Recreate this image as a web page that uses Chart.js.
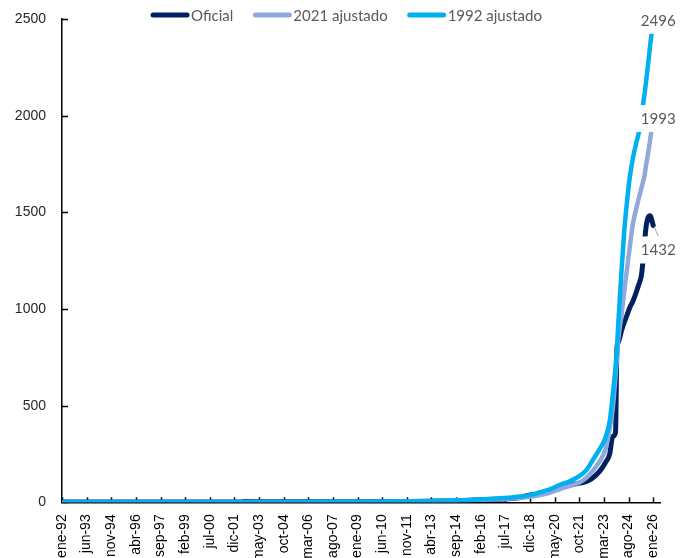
<!DOCTYPE html>
<html>
<head>
<meta charset="utf-8">
<script src="https://cdn.jsdelivr.net/npm/chart.js@4.4.1/dist/chart.umd.min.js"></script>
<style>
  html, body { margin: 0; padding: 0; overflow: hidden; background: #fff; }
  #wrap { position: relative; width: 693px; height: 573px; }
</style>
</head>
<body>
<div id="wrap"><canvas id="chart"></canvas></div>
<script>
// months counted from ene-92 (0) to ene-26 (408)
const months = [0, 24, 48, 72, 96, 120, 126, 144, 168, 192, 216, 240, 252, 264, 276, 288, 300, 310, 316, 323, 330, 337, 344, 350, 357, 362, 366, 371, 375, 378, 380, 382, 383, 384, 386, 388, 390, 392, 394, 396, 398, 400, 402, 403, 404, 405, 406, 407, 408];

const oficial = [1, 1, 1, 1, 1, 1, 3.6, 2.9, 3.05, 3.15, 3.8, 4.3, 5, 6.7, 8.6, 13.6, 16, 20, 25, 38, 44, 58, 75, 88, 99, 108, 125, 160, 205, 250, 340, 362, 800, 830, 885, 930, 970, 1010, 1040, 1080, 1125, 1180, 1340, 1420, 1462, 1480, 1482, 1460, 1432];

const ajustado2021 = [0.8, 1, 1, 1, 1, 1, 1.3, 1.5, 1.8, 2.2, 2.8, 4, 4.8, 6.5, 9, 12, 16, 20, 24, 29, 38, 50, 70, 84, 102, 128, 160, 212, 272, 380, 480, 650, 750, 850, 960, 1090, 1210, 1330, 1440, 1510, 1570, 1630, 1690, 1740, 1785, 1830, 1880, 1940, 1993];

const ajustado1992 = [1, 1.2, 1.3, 1.3, 1.3, 1.3, 1.6, 1.8, 2.2, 2.7, 3.5, 5, 6, 8, 11, 15, 20, 25, 30, 37, 52, 68, 92, 108, 135, 168, 215, 275, 333, 420, 550, 700, 800, 936, 1180, 1400, 1560, 1690, 1780, 1850, 1910, 2010, 2110, 2170, 2235, 2300, 2370, 2430, 2496];

const tickLabels = ['ene-92', 'jun-93', 'nov-94', 'abr-96', 'sep-97', 'feb-99', 'jul-00', 'dic-01', 'may-03', 'oct-04', 'mar-06', 'ago-07', 'ene-09', 'jun-10', 'nov-11', 'abr-13', 'sep-14', 'feb-16', 'jul-17', 'dic-18', 'may-20', 'oct-21', 'mar-23', 'ago-24', 'ene-26'];
const tickStep = 17;

const seriesNames = ['Oficial', '2021 ajustado', '1992 ajustado'];
const seriesColors = ['#002060', '#8EA9DB', '#00B0F0'];

const toPoints = arr => months.map((m, i) => ({ x: m, y: arr[i] }));

// small inside tick marks on both axes
const insideTicks = {
    id: 'insideTicks',
    beforeDatasetsDraw(chart) {
        const ctx = chart.ctx;
        const area = chart.chartArea;
        const xs = chart.scales.x, ys = chart.scales.y;
        ctx.save();
        ctx.strokeStyle = '#000';
        ctx.lineWidth = 1.5;
        xs.ticks.forEach(t => {
            const px = Math.round(xs.getPixelForValue(t.value)) + 0.5;
            ctx.beginPath();
            ctx.moveTo(px, area.bottom);
            ctx.lineTo(px, area.bottom - 5);
            ctx.stroke();
        });
        ys.ticks.forEach(t => {
            const py = Math.round(ys.getPixelForValue(t.value)) + 0.5;
            ctx.beginPath();
            ctx.moveTo(area.left, py);
            ctx.lineTo(area.left + 6, py);
            ctx.stroke();
        });
        ctx.restore();
    }
};

// value labels at the end of each line
const labelOffsets = [{ dx: 5, dy: 24, leader: true }, { dx: 5, dy: 1 }, { dx: 5, dy: 0 }];
const endLabels = {
    id: 'endLabels',
    afterDatasetsDraw(chart) {
        const ctx = chart.ctx;
        ctx.save();
        ctx.font = '15px Lato';
        ctx.textAlign = 'center';
        ctx.textBaseline = 'middle';
        chart.data.datasets.forEach((ds, i) => {
            const meta = chart.getDatasetMeta(i);
            const pt = meta.data[meta.data.length - 1];
            const off = labelOffsets[i];
            const text = String(Math.round(ds.data[ds.data.length - 1].y));
            const cx = pt.x + off.dx, cy = pt.y + off.dy;
            const w = ctx.measureText(text).width + 8;
            ctx.fillStyle = '#fff';
            ctx.fillRect(cx - w / 2, cy - 13, w, 27);
            if (off.leader) {
                ctx.strokeStyle = '#A6A6A6';
                ctx.lineWidth = 1;
                ctx.beginPath();
                ctx.moveTo(pt.x + 1, pt.y + 1);
                ctx.lineTo(cx, cy - 13);
                ctx.stroke();
            }
            ctx.fillStyle = '#595959';
            ctx.fillText(text, cx, cy + 1);
        });
        ctx.restore();
    }
};

// legend drawn over the top of the plot, like the original
const topLegend = {
    id: 'topLegend',
    afterDraw(chart) {
        const ctx = chart.ctx;
        ctx.save();
        ctx.font = '15px Lato';
        const sample = 38, gap = 2, space = 20;
        const items = chart.data.datasets.map(ds => ({ text: ds.label, color: ds.borderColor, w: ctx.measureText(ds.label).width }));
        const total = items.reduce((s, it) => s + sample + gap + it.w, 0) + space * (items.length - 1);
        let x = chart.width / 2 - total / 2;
        const y = 15;
        ctx.textBaseline = 'middle';
        ctx.textAlign = 'left';
        items.forEach(it => {
            ctx.strokeStyle = it.color;
            ctx.lineWidth = 5;
            ctx.lineCap = 'round';
            ctx.beginPath();
            ctx.moveTo(x + 2, y);
            ctx.lineTo(x + sample - 2, y);
            ctx.stroke();
            ctx.fillStyle = '#595959';
            ctx.fillText(it.text, x + sample + gap, y + 1);
            x += sample + gap + it.w + space;
        });
        ctx.restore();
    }
};

const ctx = document.getElementById('chart').getContext('2d');
new Chart(ctx, {
    type: 'line',
    data: {
        datasets: [
            { label: seriesNames[0], data: toPoints(oficial), borderColor: seriesColors[0], backgroundColor: seriesColors[0], borderWidth: 5, order: 3 },
            { label: seriesNames[1], data: toPoints(ajustado2021), borderColor: seriesColors[1], backgroundColor: seriesColors[1], borderWidth: 4.5, order: 2 },
            { label: seriesNames[2], data: toPoints(ajustado1992), borderColor: seriesColors[2], backgroundColor: seriesColors[2], borderWidth: 4.5, order: 1 }
        ]
    },
    options: {
        responsive: true,
        maintainAspectRatio: false,
        animation: false,
        layout: { padding: { top: 19, right: 33, left: 14, bottom: 0 } },
        elements: {
            point: { radius: 0 },
            line: { cubicInterpolationMode: 'monotone', borderCapStyle: 'round', borderJoinStyle: 'round' }
        },
        plugins: { legend: { display: false }, tooltip: { enabled: false } },
        scales: {
            x: {
                type: 'linear',
                min: 0,
                max: 412.7,
                grid: { display: false, drawTicks: false },
                border: { color: '#000', width: 1.5 },
                ticks: {
                    stepSize: tickStep,
                    includeBounds: false,
                    autoSkip: false,
                    maxRotation: 90,
                    minRotation: 90,
                    padding: 12,
                    color: '#000',
                    font: { family: 'Liberation Sans', size: 14 },
                    callback: v => tickLabels[Math.round(v / tickStep)]
                }
            },
            y: {
                min: 0,
                max: 2500,
                grid: { display: false, drawTicks: false },
                border: { color: '#000', width: 1.5 },
                afterFit: scale => {
                    scale.width = 48;
                    scale.paddingTop = 8;
                    scale.paddingBottom = 8;
                },
                ticks: {
                    stepSize: 500,
                    padding: 16,
                    color: '#262626',
                    font: { family: 'Liberation Sans', size: 14 },
                    callback: v => String(v)
                }
            }
        }
    },
    plugins: [insideTicks, endLabels, topLegend]
});
</script>
</body>
</html>
